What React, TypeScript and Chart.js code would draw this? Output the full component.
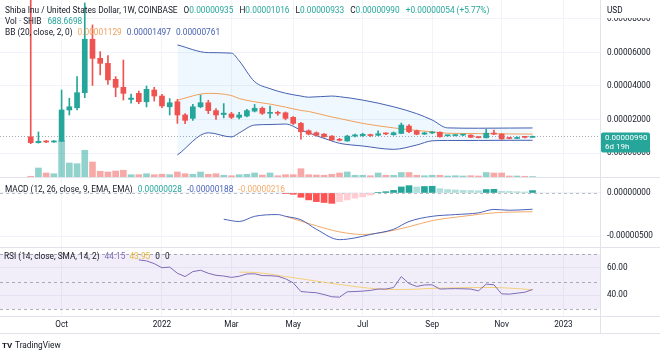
import { useEffect, useRef } from "react";
import { Chart, registerables } from "chart.js";

Chart.register(...registerables);

// SHIB/USD weekly candles (Coinbase). Prices in units of 0.000001 USD. Week 0 = 6 Sep 2021.
const TIME_TICK_WEEKS = [4, 17, 26, 34, 43, 52, 61, 69];
const TIME_TICK_LABELS = ["Oct", "2022", "Mar", "May", "Jul", "Sep", "Nov", "2023"];
const PRICE_TICKS = [0, 20, 40, 60, 80];
const MACD_TICKS = [-5, 0];
const RSI_TICKS = [40, 60];
const RSI_BANDS = [70, 50, 30];

const OPEN = [
  9.7, 6.2, 7.0, 6.6, 7.0, 25.7, 27.0, 36.0, 67.9, 56.5,
  53.5, 44.0, 39.2, 32.0, 35.6, 30.6, 37.6, 34.0, 27.6, 30.6,
  22.7, 20.7, 27.6, 30.0, 25.3, 23.0, 23.3, 21.3, 22.1, 25.0,
  26.7, 23.7, 24.1, 24.0, 21.3, 17.7, 13.3, 12.1, 11.3, 10.1,
  8.2, 7.2, 10.1, 10.4, 10.9, 10.6, 11.5, 10.9, 11.7, 16.1,
  13.3, 11.3, 12.0, 12.4, 10.3, 10.4, 10.7, 10.7, 9.4, 9.1,
  11.8, 11.3, 9.0, 8.7, 9.5, 9.35,
];
const HIGH = [
  120, 12.6, 7.4, 7.4, 37.6, 32.7, 45.6, 89.5, 76.4, 60.5,
  58.2, 45.6, 55.5, 35.2, 37.0, 40.0, 39.2, 35.0, 32.5, 32.0,
  23.5, 29.0, 34.6, 31.5, 26.5, 29.5, 24.3, 24.3, 26.0, 29.0,
  27.5, 28.0, 25.0, 24.5, 21.8, 18.3, 13.8, 12.6, 11.6, 10.4,
  8.8, 10.6, 11.3, 11.8, 11.3, 13.3, 12.0, 12.6, 17.9, 17.0,
  13.7, 12.4, 12.8, 12.7, 10.7, 11.0, 11.2, 10.9, 9.6, 14.1,
  13.7, 11.6, 9.3, 9.6, 9.7, 10.16,
];
const LOW = [
  5.6, 5.9, 6.2, 6.3, 6.8, 22.7, 25.7, 33.0, 40.3, 46.6,
  40.9, 33.6, 31.6, 29.7, 29.4, 27.5, 31.0, 27.0, 22.7, 17.7,
  17.5, 19.5, 27.0, 23.5, 20.0, 21.0, 20.5, 20.3, 21.5, 24.5,
  23.0, 21.0, 22.5, 19.8, 17.0, 8.2, 10.8, 10.2, 9.4, 7.4,
  7.2, 7.0, 9.6, 9.9, 9.9, 10.3, 10.9, 10.6, 11.5, 12.2,
  10.9, 11.0, 11.6, 9.4, 10.0, 10.2, 10.4, 9.2, 9.0, 9.0,
  11.0, 8.2, 8.4, 8.5, 9.0, 9.33,
];
const CLOSE = [
  6.2, 7.0, 6.6, 7.0, 25.7, 27.6, 36.0, 67.9, 56.5, 53.5,
  43.6, 39.2, 35.6, 32.8, 30.6, 38.0, 34.0, 28.1, 30.0, 22.7,
  19.5, 27.6, 30.0, 25.3, 22.7, 23.8, 21.3, 22.7, 25.3, 26.7,
  23.7, 24.1, 23.7, 20.7, 17.7, 12.7, 11.3, 10.6, 9.7, 7.8,
  7.6, 10.1, 10.8, 11.2, 10.4, 11.5, 11.4, 12.1, 16.7, 12.7,
  11.2, 12.0, 12.3, 9.7, 10.4, 10.7, 10.9, 9.4, 9.2, 11.8,
  11.3, 8.4, 8.7, 9.0, 9.36, 9.9,
];
// Volume in billions of SHIB
const VOLUME = [
  1000, 12600, 5600, 4600, 51400, 19600, 18600, 37400, 21000, 8000,
  7000, 8400, 9400, 3200, 3200, 4600, 3200, 3800, 3200, 7000,
  4600, 3800, 7000, 3800, 4600, 2400, 1800, 3200, 3800, 5600,
  2800, 5600, 1800, 3200, 3200, 11600, 3200, 2800, 2400, 3800,
  5600, 7000, 2400, 2400, 1800, 5600, 2400, 2400, 6300, 6300,
  2400, 1800, 2400, 2400, 1400, 1800, 1400, 1800, 1400, 6300,
  5600, 5600, 1400, 1400, 1000, 688.67,
];

// Bollinger Bands (20, 2)
const BB_WEEKS = [19, 23, 26, 27, 29, 31, 33, 35, 36, 39, 40, 43, 47, 50, 52, 54, 58, 62, 65];
const BB_UPPER = [64.5, 59.9, 59.6, 55.0, 42.6, 38.4, 35.7, 34.0, 33.3, 34.0, 33.6, 31.6, 27.6, 23.5, 19.7, 15.0, 14.8, 14.9, 14.97];
const BB_BASIS = [31.6, 35.6, 34.3, 32.5, 30.6, 29.2, 27.4, 25.4, 24.8, 21.5, 20.6, 17.7, 15.0, 13.5, 12.6, 11.8, 11.6, 11.4, 11.29];
const BB_LOWER = [-1.2, 12.1, 9.6, 12.0, 16.7, 17.0, 17.3, 13.7, 12.0, 7.2, 5.8, 4.2, 2.2, 4.8, 7.3, 7.5, 7.5, 7.6, 7.61];

// MACD (12, 26, 9) in units of 0.000001
const MACD_WEEKS = [25, 27, 29, 32, 33, 35, 37, 40, 42, 44, 47, 49, 52, 55, 58, 60, 62, 65];
const MACD_VALUES = [-3.04, -3.3, -2.7, -2.5, -2.7, -3.1, -4.2, -5.4, -5.2, -4.8, -4.2, -3.3, -2.7, -2.5, -2.3, -1.9, -2.0, -1.88];
const SIGNAL_WEEKS = [33, 37, 40, 43, 46, 49, 52, 56, 60, 65];
const SIGNAL_VALUES = [-2.7, -3.8, -4.5, -4.8, -4.5, -3.9, -3.2, -2.7, -2.3, -2.16];
const HIST_FIRST_WEEK = 33;
const HIST_VALUES = [
  -0.05, -0.15, -0.5, -0.8, -1.0, -1.1, -1.2, -1.0, -0.8, -0.6,
  -0.45, -0.25, 0.05, 0.15, 0.3, 0.7, 0.85, 0.7, 0.75, 0.78,
  0.5, 0.4, 0.35, 0.3, 0.28, 0.26, 0.4, 0.42, 0.2, 0.18,
  0.15, 0.12, 0.28,
];

// RSI (14) and its SMA (14)
const RSI_FIRST_WEEK = 14;
const RSI_VALUES = [
  65.7, 65.0, 63.0, 60.0, 60.5, 56.0, 53.6, 57.2, 58.2, 56.0,
  54.5, 54.0, 53.0, 53.8, 55.5, 55.6, 54.3, 54.2, 53.8, 52.0,
  49.0, 42.7, 42.2, 41.8, 40.5, 38.9, 38.6, 42.5, 42.7, 43.0,
  43.5, 44.5, 44.5, 45.6, 53.6, 48.5, 46.4, 47.5, 47.6, 44.5,
  44.7, 44.8, 44.7, 44.5, 43.2, 48.1, 47.6, 41.0, 40.8, 41.5,
  42.2, 44.15,
];
const RSI_MA_WEEKS = [27, 29, 33, 37, 42, 45, 48, 52, 56, 59, 62, 65];
const RSI_MA_VALUES = [56.8, 56.6, 53.6, 50.3, 46.3, 44.6, 44.1, 45.0, 45.5, 45.7, 45.2, 44.0];

const X_MIN = -3.98;
const X_MAX = 73.74;

const TEAL = "#26a69a";
const RED = "#ef5350";
const TEXT = "#131722";
const GRID = "#f0f3fa";
const SEP = "#e0e3eb";
const BB_BLUE = "#4560b0";
const BB_ORANGE = "#f0a05a";
const MACD_BLUE = "#4a62b8";
const SIGNAL_ORANGE = "#f2aa6a";
const RSI_PURPLE = "#7e6bb5";
const RSI_MA = "rgba(245,200,90,0.8)";
const FONT = "Roboto, 'Noto Sans', sans-serif";

const fmtPrice = (v: number) => (v * 1e-6).toFixed(8);
const isUp = (i: number) => CLOSE[i] >= OPEN[i];
const pts = (xs: number[], ys: number[]) => xs.map((x, i) => ({ x, y: ys[i] }));

function drawRow(ctx: CanvasRenderingContext2D, x: number, y: number, parts: [string, string, number][]) {
  let cx = x;
  for (const [t, c, gap] of parts) {
    ctx.fillStyle = c;
    ctx.fillText(t, cx, y);
    cx += ctx.measureText(t).width + gap;
  }
}

const overlay = {
  id: "overlay",
  beforeDatasetsDraw(chart: any) {
    const { ctx, chartArea: ca, scales } = chart;
    const r = scales.yRsi;
    ctx.save();
    const y70 = r.getPixelForValue(RSI_BANDS[0]);
    const y30 = r.getPixelForValue(RSI_BANDS[2]);
    ctx.fillStyle = "rgba(126,87,194,0.10)";
    ctx.fillRect(ca.left, y70, ca.right - ca.left, y30 - y70);
    ctx.strokeStyle = "rgba(120,123,134,0.6)";
    ctx.lineWidth = 1;
    ctx.setLineDash([3, 3]);
    for (const b of RSI_BANDS) {
      const y = Math.round(r.getPixelForValue(b)) + 0.5;
      ctx.beginPath();
      ctx.moveTo(ca.left, y);
      ctx.lineTo(ca.right, y);
      ctx.stroke();
    }
    const m0 = Math.round(scales.yMacd.getPixelForValue(0)) + 0.5;
    ctx.strokeStyle = "rgba(120,123,134,0.5)";
    ctx.beginPath();
    ctx.moveTo(ca.left, m0);
    ctx.lineTo(ca.right, m0);
    ctx.stroke();
    const py = Math.round(scales.yPrice.getPixelForValue(CLOSE[CLOSE.length - 1])) + 0.5;
    ctx.strokeStyle = "rgba(140,150,160,0.8)";
    ctx.setLineDash([1, 2]);
    ctx.beginPath();
    ctx.moveTo(ca.left, py);
    ctx.lineTo(ca.right, py);
    ctx.stroke();
    ctx.restore();
  },
  afterDraw(chart: any) {
    const { ctx, chartArea: ca, scales } = chart;
    const W = chart.width;
    ctx.save();
    ctx.setLineDash([]);
    ctx.strokeStyle = SEP;
    ctx.lineWidth = 1;
    const seps = [scales.yPrice.bottom, scales.yMacd.bottom, scales.yRsi.bottom, scales.x.bottom];
    for (const s of seps) {
      const y = Math.round(s) + 0.5;
      ctx.beginPath();
      ctx.moveTo(0, y);
      ctx.lineTo(W, y);
      ctx.stroke();
    }
    const vx = Math.round(ca.right) + 0.5;
    ctx.beginPath();
    ctx.moveTo(vx, 0);
    ctx.lineTo(vx, Math.round(scales.x.bottom));
    ctx.stroke();

    ctx.textBaseline = "middle";
    ctx.textAlign = "left";
    ctx.font = `8.2px ${FONT}`;

    // USD label
    ctx.fillStyle = "#ffffff";
    ctx.fillRect(ca.right + 1, 0, W - ca.right - 1, 18);
    ctx.fillStyle = TEXT;
    ctx.fillText("USD", ca.right + 7, 10.5);

    // last price label
    const py = scales.yPrice.getPixelForValue(CLOSE[CLOSE.length - 1]);
    ctx.fillStyle = TEAL;
    ctx.beginPath();
    ctx.roundRect(ca.right + 1, py - 4, 49, 20, 2);
    ctx.fill();
    ctx.fillStyle = "#ffffff";
    ctx.font = `8px ${FONT}`;
    ctx.fillText(fmtPrice(CLOSE[CLOSE.length - 1]), ca.right + 5, py + 1.5);
    ctx.fillText("6d 19h", ca.right + 5, py + 10.5);

    // legends
    ctx.font = `8.3px ${FONT}`;
    drawRow(ctx, 5, 10.7, [
      ["Shiba Inu / United States Dollar, 1W, COINBASE", TEXT, 6],
      ["O", TEXT, 0], ["0.00000935", TEAL, 6],
      ["H", TEXT, 0], ["0.00001016", TEAL, 6],
      ["L", TEXT, 0], ["0.00000933", TEAL, 6],
      ["C", TEXT, 0], ["0.00000990", TEAL, 6],
      ["+0.00000054 (+5.77%)", TEAL, 0],
    ]);
    drawRow(ctx, 5, 22, [["Vol · SHIB", TEXT, 6], ["688.6698", TEAL, 0]]);
    drawRow(ctx, 5, 33.3, [
      ["BB (20, close, 2, 0)", TEXT, 5],
      ["0.00001129", BB_ORANGE, 5],
      ["0.00001497", BB_BLUE, 5],
      ["0.00000761", BB_BLUE, 0],
    ]);
    drawRow(ctx, 5, 189.5, [
      ["MACD (12, 26, close, 9, EMA, EMA)", TEXT, 5],
      ["0.00000028", TEAL, 5],
      ["-0.00000188", MACD_BLUE, 5],
      ["-0.00000216", SIGNAL_ORANGE, 0],
    ]);
    drawRow(ctx, 4, 256.5, [
      ["RSI (14, close, SMA, 14, 2)", TEXT, 5],
      ["44.15", RSI_PURPLE, 4],
      ["43.95", "#e8b838", 5],
      ["0", TEXT, 5],
      ["0", TEXT, 0],
    ]);

    // TradingView mark
    ctx.fillStyle = TEXT;
    ctx.font = `bold 8px ${FONT}`;
    ctx.fillText("TV", 2, 346);
    ctx.font = `8.3px ${FONT}`;
    ctx.fillText("TradingView", 15, 346);
    ctx.restore();
  },
};

const yAxisBase = (ticks: number[], fmt: (v: number) => string) => ({
  type: "linear" as const,
  position: "right" as const,
  stack: "panes",
  grid: { color: GRID, drawTicks: false },
  border: { display: false },
  ticks: { color: TEXT, padding: 7, font: { size: 8.2, family: FONT }, callback: (v: any) => fmt(Number(v)) },
  afterBuildTicks: (s: any) => {
    s.ticks = ticks.map((value) => ({ value }));
  },
  afterFit: (s: any) => {
    s.width = 60;
    s.paddingTop = 0;
    s.paddingBottom = 0;
  },
});

export default function App() {
  const ref = useRef<HTMLCanvasElement>(null);
  useEffect(() => {
    document.body.style.margin = "0";
    const weeks = OPEN.map((_, i) => i);
    const histWeeks = HIST_VALUES.map((_, i) => HIST_FIRST_WEEK + i);
    const histColors = HIST_VALUES.map((v, i) => {
      const prev = i > 0 ? HIST_VALUES[i - 1] : 0;
      if (v >= 0) return v >= prev ? "#26a69a" : "#b2dfdb";
      return v <= prev ? "#ff5252" : "#ffcdd2";
    });
    const chart = new Chart(ref.current as HTMLCanvasElement, {
      type: "bar",
      data: {
        datasets: [
          {
            type: "bar",
            data: weeks.map((i) => ({ x: i, y: VOLUME[i] })),
            yAxisID: "yVol",
            backgroundColor: weeks.map((i) => (isUp(i) ? "rgba(38,166,154,0.5)" : "rgba(239,83,80,0.5)")),
            barThickness: 6,
            grouped: false,
            order: 20,
          } as any,
          {
            type: "line",
            data: pts(BB_WEEKS, BB_UPPER),
            yAxisID: "yPrice",
            borderColor: BB_BLUE,
            borderWidth: 1,
            pointRadius: 0,
            cubicInterpolationMode: "monotone",
            fill: "+2",
            backgroundColor: "rgba(33,150,243,0.07)",
            order: 15,
          },
          {
            type: "line",
            data: pts(BB_WEEKS, BB_BASIS),
            yAxisID: "yPrice",
            borderColor: BB_ORANGE,
            borderWidth: 1,
            pointRadius: 0,
            cubicInterpolationMode: "monotone",
            fill: false,
            order: 14,
          },
          {
            type: "line",
            data: pts(BB_WEEKS, BB_LOWER),
            yAxisID: "yPrice",
            borderColor: BB_BLUE,
            borderWidth: 1,
            pointRadius: 0,
            cubicInterpolationMode: "monotone",
            fill: false,
            order: 14,
          },
          {
            type: "bar",
            data: weeks.map((i) => ({ x: i, y: [LOW[i], HIGH[i]] })),
            yAxisID: "yPrice",
            backgroundColor: weeks.map((i) => (isUp(i) ? TEAL : RED)),
            barThickness: 1,
            grouped: false,
            order: 3,
          } as any,
          {
            type: "bar",
            data: weeks.map((i) => ({ x: i, y: [OPEN[i], CLOSE[i]] })),
            yAxisID: "yPrice",
            backgroundColor: weeks.map((i) => (isUp(i) ? TEAL : RED)),
            barThickness: 5,
            minBarLength: 1,
            grouped: false,
            order: 2,
          } as any,
          {
            type: "bar",
            data: histWeeks.map((w, i) => ({ x: w, y: HIST_VALUES[i] })),
            yAxisID: "yMacd",
            backgroundColor: histColors,
            barThickness: 6,
            grouped: false,
            order: 8,
          } as any,
          {
            type: "line",
            data: pts(MACD_WEEKS, MACD_VALUES),
            yAxisID: "yMacd",
            borderColor: MACD_BLUE,
            borderWidth: 1,
            pointRadius: 0,
            cubicInterpolationMode: "monotone",
            order: 4,
          },
          {
            type: "line",
            data: pts(SIGNAL_WEEKS, SIGNAL_VALUES),
            yAxisID: "yMacd",
            borderColor: SIGNAL_ORANGE,
            borderWidth: 1,
            pointRadius: 0,
            cubicInterpolationMode: "monotone",
            order: 4,
          },
          {
            type: "line",
            data: RSI_VALUES.map((v, i) => ({ x: RSI_FIRST_WEEK + i, y: v })),
            yAxisID: "yRsi",
            borderColor: RSI_PURPLE,
            borderWidth: 1,
            pointRadius: 0,
            order: 4,
          },
          {
            type: "line",
            data: pts(RSI_MA_WEEKS, RSI_MA_VALUES),
            yAxisID: "yRsi",
            borderColor: RSI_MA,
            borderWidth: 1,
            pointRadius: 0,
            cubicInterpolationMode: "monotone",
            order: 5,
          },
        ],
      },
      options: {
        responsive: false,
        animation: false,
        devicePixelRatio: 1,
        layout: { padding: { left: 0, right: 0, top: 0, bottom: 24 }, autoPadding: false },
        plugins: { legend: { display: false }, tooltip: { enabled: false } },
        scales: {
          x: {
            type: "linear",
            position: "bottom",
            min: X_MIN,
            max: X_MAX,
            offset: false,
            grid: { color: GRID, drawTicks: false, offset: false },
            border: { display: false },
            ticks: {
              color: TEXT,
              padding: 4,
              autoSkip: false,
              maxRotation: 0,
              font: { size: 8.2, family: FONT },
              callback: (v: any) => {
                const k = TIME_TICK_WEEKS.indexOf(Number(v));
                return k >= 0 ? TIME_TICK_LABELS[k] : "";
              },
            },
            afterBuildTicks: (s: any) => {
              s.ticks = TIME_TICK_WEEKS.map((value) => ({ value }));
            },
            afterFit: (s: any) => {
              s.height = 17;
              s.paddingLeft = 0;
              s.paddingRight = 0;
            },
          },
          yPrice: { ...yAxisBase(PRICE_TICKS, fmtPrice), stackWeight: 177, weight: 1, min: -14.3, max: 91.3 },
          yMacd: { ...yAxisBase(MACD_TICKS, fmtPrice), stackWeight: 70, weight: 2, min: -6.25, max: 1.85 },
          yRsi: { ...yAxisBase(RSI_TICKS, (v) => v.toFixed(2)), stackWeight: 69, weight: 3, min: 24.9, max: 75.1 },
          yVol: { type: "linear", position: "right", display: false, min: -194600, max: 247800, weight: 10 },
        } as any,
      },
      plugins: [overlay],
    });
    return () => chart.destroy();
  }, []);
  return (
    <div style={{ position: "fixed", left: 0, top: 0, width: 660, height: 357, background: "#ffffff" }}>
      <canvas ref={ref} width={660} height={357} style={{ display: "block", width: 660, height: 357 }} />
    </div>
  );
}
